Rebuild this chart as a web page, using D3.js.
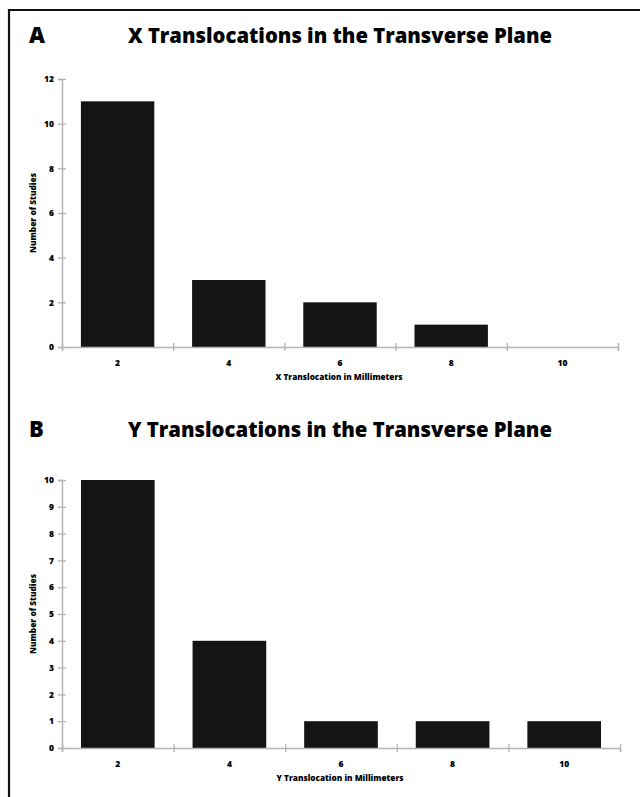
<!DOCTYPE html>
<html>
<head>
<meta charset="utf-8">
<script src="https://cdn.jsdelivr.net/npm/d3@7"></script>
<style>
  html, body { margin: 0; padding: 0; background: #fff; }
  svg { display: block; }
  text { font-family: "Open Sans", "DejaVu Sans", sans-serif; }
</style>
</head>
<body>
<svg id="chart" width="640" height="797"></svg>
<script>
// Translocation bins (mm)
const categories = ['2', '4', '6', '8', '10'];
// Number of studies per bin
const xCounts = [11, 3, 2, 1, 0];
const yCounts = [10, 4, 1, 1, 1];
// Y tick values
const yTicksA = [0, 2, 4, 6, 8, 10, 12];
const yTicksB = [0, 1, 2, 3, 4, 5, 6, 7, 8, 9, 10];

const panels = [
  { letter: 'A', title: 'X Translocations in the Transverse Plane', xTitle: 'X Translocation in Millimeters',
    counts: xCounts, ticks: yTicksA, yMax: 12, titleY: 43, top: 79, bottom: 347, right: 618 },
  { letter: 'B', title: 'Y Translocations in the Transverse Plane', xTitle: 'Y Translocation in Millimeters',
    counts: yCounts, ticks: yTicksB, yMax: 10, titleY: 437, top: 480, bottom: 748, right: 620 },
];

const FONT = '"Open Sans", "DejaVu Sans", sans-serif';
const svg = d3.select('#chart');
const left = 62;
const pad = 0.34;
const axisColor = '#b4b4b4';
const barColor = '#141416';

// Frame (left and top rules)
svg.append('path')
  .attr('d', 'M9,797 L9,10 L640,10')
  .attr('fill', 'none').attr('stroke', '#111').attr('stroke-width', 2.2);

panels.forEach(p => {
  const g = svg.append('g');

  const x = d3.scaleBand().domain(categories).range([left, p.right])
    .paddingInner(pad).paddingOuter(pad / 2);
  const xBounds = d3.scaleLinear().domain([0, categories.length]).range([left, p.right]);
  const y = d3.scaleLinear().domain([0, p.yMax]).range([p.bottom, p.top]);

  // Panel letter + title
  g.append('text')
    .attr('x', 29).attr('y', p.titleY)
    .attr('font-size', 22).attr('font-weight', 800).attr('fill', '#000')
    .text(p.letter);
  g.append('text')
    .attr('x', 128).attr('y', p.titleY)
    .attr('font-size', 21).attr('font-weight', 800).attr('fill', '#000')
    .attr('textLength', 424).attr('lengthAdjust', 'spacingAndGlyphs')
    .text(p.title);

  // Bars
  g.selectAll('rect.bar')
    .data(categories.map((c, i) => ({ c, v: p.counts[i] })))
    .join('rect')
    .attr('class', 'bar')
    .attr('x', d => x(d.c))
    .attr('y', d => y(d.v))
    .attr('width', x.bandwidth())
    .attr('height', d => y(0) - y(d.v))
    .attr('fill', barColor);

  // Y axis
  const yAxis = g.append('g')
    .attr('transform', `translate(${left},0)`)
    .call(d3.axisLeft(y).tickValues(p.ticks).tickSize(4).tickPadding(4).tickFormat(d3.format('d')));
  yAxis.select('.domain').attr('stroke', axisColor).attr('stroke-width', 1.5);
  yAxis.selectAll('.tick line').attr('x1', -4).attr('x2', 4).attr('stroke', axisColor).attr('stroke-width', 1.3);
  yAxis.selectAll('.tick text').attr('font-size', 8.5).attr('font-weight', 800).attr('fill', '#000')
    .attr('font-family', FONT);

  // X axis: boundary ticks
  const xAxis = g.append('g')
    .attr('transform', `translate(0,${p.bottom})`)
    .call(d3.axisBottom(xBounds).ticks(categories.length).tickSize(4).tickFormat(''));
  xAxis.select('.domain').attr('stroke', axisColor).attr('stroke-width', 1.5);
  xAxis.selectAll('.tick line').attr('y1', -4).attr('y2', 4).attr('stroke', axisColor).attr('stroke-width', 1.3);

  // X axis: category labels
  const xLabels = g.append('g')
    .attr('transform', `translate(0,${p.bottom})`)
    .call(d3.axisBottom(x).tickSize(0).tickPadding(13));
  xLabels.select('.domain').remove();
  xLabels.selectAll('.tick text').attr('font-size', 8.5).attr('font-weight', 800).attr('fill', '#000')
    .attr('font-family', FONT);

  // Axis titles
  g.append('text')
    .attr('x', (left + p.right) / 2 - 1).attr('y', p.bottom + 33)
    .attr('text-anchor', 'middle')
    .attr('font-size', 8).attr('font-weight', 800).attr('fill', '#000')
    .attr('textLength', 127).attr('lengthAdjust', 'spacingAndGlyphs')
    .text(p.xTitle);
  g.append('text')
    .attr('transform', `translate(36,${(p.top + p.bottom) / 2}) rotate(-90)`)
    .attr('text-anchor', 'middle')
    .attr('font-size', 8).attr('font-weight', 800).attr('fill', '#000')
    .attr('textLength', 80).attr('lengthAdjust', 'spacingAndGlyphs')
    .text('Number of Studies');
});
</script>
</body>
</html>
